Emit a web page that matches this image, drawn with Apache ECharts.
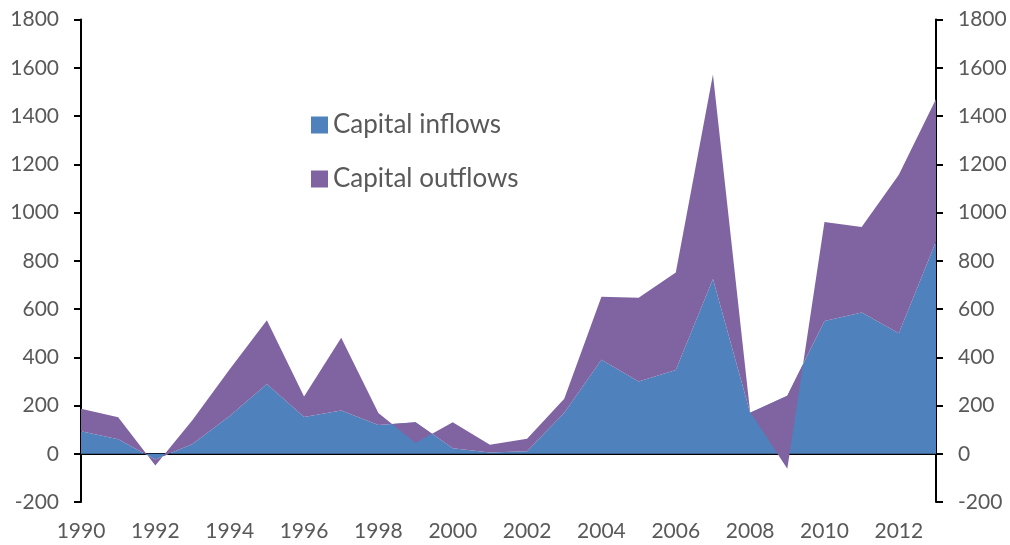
<!DOCTYPE html>
<html>
<head>
<meta charset="utf-8">
<script src="https://cdn.jsdelivr.net/npm/echarts@6/dist/echarts.min.js"></script>
<style>
  html, body { margin: 0; padding: 0; background: #fff; }
  #chart { width: 1010px; height: 545px; }
</style>
</head>
<body>
<div id="chart"></div>
<script>
// Years on the category axis
const years = ['1990','1991','1992','1993','1994','1995','1996','1997','1998','1999','2000','2001',
               '2002','2003','2004','2005','2006','2007','2008','2009','2010','2011','2012','2013'];

// Capital inflows (bottom layer of the stack)
const inflows = [93, 60, -24, 40, 156, 289, 152, 179, 119, 131, 23, 5,
                 10, 170, 390, 300, 347, 724, 170, 240, 550, 585, 500, 880];

// Capital outflows (stacked on top of inflows)
const outflows = [94, 91, -25, 100, 194, 264, 85, 302, 50, -86, 108, 32,
                  52, 58, 261, 347, 404, 848, 3, -302, 411, 355, 656, 590];

// Value axis range and step
const yMin = -200, yMax = 1800, yStep = 200;

const labelColor = '#595959';
const fontFamily = 'Lato, "Open Sans", sans-serif';

const chart = echarts.init(document.getElementById('chart'), null, { renderer: 'canvas' });

const valueLabel = {
  color: labelColor,
  fontSize: 21,
  fontFamily: fontFamily,
  margin: 22,
  formatter: (v) => String(v)
};

chart.setOption({
  animation: false,
  backgroundColor: '#ffffff',
  grid: { left: 81, right: 74, top: 19.5, bottom: 43, containLabel: false },
  legend: {
    orient: 'vertical',
    left: 306,
    top: 105,
    icon: 'rect',
    itemWidth: 17,
    itemHeight: 17,
    itemGap: 24,
    textStyle: { color: labelColor, fontSize: 26, fontFamily: fontFamily, lineHeight: 30 },
    data: ['Capital inflows', 'Capital outflows']
  },
  xAxis: [
    {
      type: 'category',
      data: years,
      boundaryGap: false,
      position: 'bottom',
      axisLine: { show: false, onZero: false },
      axisTick: { show: false },
      axisLabel: {
        interval: 1,
        color: labelColor,
        fontSize: 21,
        fontFamily: fontFamily,
        margin: 19
      },
      splitLine: { show: false }
    },
    {
      // zero line across the plot
      type: 'category',
      data: years,
      boundaryGap: false,
      position: 'bottom',
      axisLine: { show: true, onZero: true, lineStyle: { color: '#000', width: 2 } },
      axisTick: { show: false },
      axisLabel: { show: false },
      splitLine: { show: false }
    }
  ],
  yAxis: [
    {
      type: 'value',
      min: yMin, max: yMax, interval: yStep,
      position: 'left',
      axisLine: { show: true, lineStyle: { color: '#000', width: 2 } },
      axisTick: { show: true, inside: false, length: 7, lineStyle: { color: '#000', width: 2 } },
      axisLabel: valueLabel,
      splitLine: { show: false }
    },
    {
      type: 'value',
      min: yMin, max: yMax, interval: yStep,
      position: 'right',
      axisLine: { show: true, lineStyle: { color: '#000', width: 2 } },
      axisTick: { show: true, inside: false, length: 7, lineStyle: { color: '#000', width: 2 } },
      axisLabel: valueLabel,
      splitLine: { show: false }
    }
  ],
  series: [
    {
      name: 'Capital inflows',
      type: 'line',
      xAxisIndex: 0,
      yAxisIndex: 0,
      stack: 'flows',
      stackStrategy: 'all',
      data: inflows,
      showSymbol: false,
      symbol: 'none',
      lineStyle: { width: 0 },
      itemStyle: { color: '#4F81BD' },
      areaStyle: { color: '#4F81BD', opacity: 1 },
      z: 1
    },
    {
      name: 'Capital outflows',
      type: 'line',
      xAxisIndex: 0,
      yAxisIndex: 0,
      stack: 'flows',
      stackStrategy: 'all',
      data: outflows,
      showSymbol: false,
      symbol: 'none',
      lineStyle: { width: 0 },
      itemStyle: { color: '#8064A2' },
      areaStyle: { color: '#8064A2', opacity: 1 },
      z: 2
    }
  ]
});
</script>
</body>
</html>
